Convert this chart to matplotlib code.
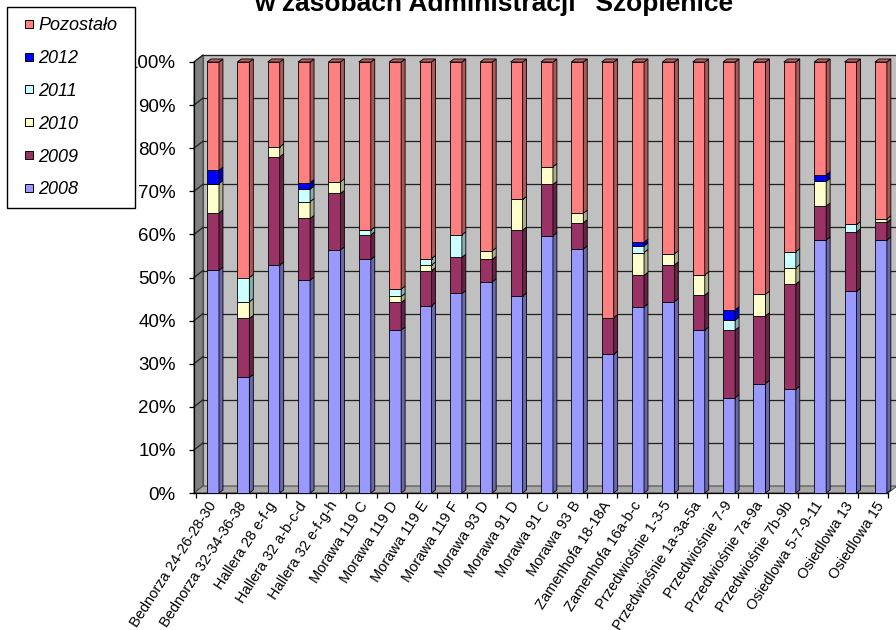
import numpy as np
import matplotlib
matplotlib.use("Agg")
import matplotlib.pyplot as plt
from matplotlib.patches import Polygon, Rectangle
from matplotlib.lines import Line2D
from matplotlib.colors import to_rgb

plt.rcParams['font.family'] = ['Liberation Sans', 'DejaVu Sans']

# ---- data (percent of premises per building) ----
categories = [
    "Bednorza 24-26-28-30", "Bednorza 32-34-36-38", "Hallera 28 e-f-g",
    "Hallera 32 a-b-c-d", "Hallera 32 e-f-g-h", "Morawa 119 C", "Morawa 119 D",
    "Morawa 119 E", "Morawa 119 F", "Morawa 93 D", "Morawa 91 D", "Morawa 91 C",
    "Morawa 93 B", "Zamenhofa 18-18A", "Zamenhofa 16a-b-c", "Przedwiośnie 1-3-5",
    "Przedwiośnie 1a-3a-5a", "Przedwiośnie 7-9", "Przedwiośnie 7a-9a",
    "Przedwiośnie 7b-9b", "Osiedlowa 5-7-9-11", "Osiedlowa 13", "Osiedlowa 15",
]
share_2008 = [51.7, 26.8, 52.9, 49.4, 56.4, 54.2, 37.8, 43.5, 46.3, 49.0, 45.7, 59.7,
              56.6, 32.2, 43.2, 44.4, 37.8, 22.1, 25.4, 24.1, 58.7, 46.8, 58.7]
share_2009 = [13.3, 13.7, 25.1, 14.3, 13.1, 5.7, 6.4, 8.1, 8.4, 5.2, 15.3, 11.9,
              6.1, 8.5, 7.3, 8.5, 8.1, 15.7, 15.7, 24.4, 7.9, 13.8, 4.1]
share_2010 = [6.8, 3.9, 2.3, 3.9, 2.7, 0.0, 1.4, 1.3, 0.0, 2.0, 7.1, 4.1,
              2.2, 0.0, 5.3, 2.6, 4.7, 0.0, 5.0, 3.8, 5.7, 0.0, 0.8]
share_2011 = [0.0, 5.6, 0.0, 2.9, 0.0, 1.1, 1.7, 1.5, 5.2, 0.0, 0.0, 0.0,
              0.0, 0.0, 1.5, 0.0, 0.0, 2.3, 0.0, 3.7, 0.0, 1.7, 0.0]
share_2012 = [3.1, 0.0, 0.0, 1.5, 0.0, 0.0, 0.0, 0.0, 0.0, 0.0, 0.0, 0.0,
              0.0, 0.0, 0.9, 0.0, 0.0, 2.4, 0.0, 0.0, 1.5, 0.0, 0.0]
share_rest = [25.1, 50.0, 19.7, 28.0, 27.8, 39.0, 52.7, 45.6, 40.1, 43.8, 31.9, 24.3,
              35.1, 59.3, 41.8, 44.5, 49.4, 57.5, 53.9, 44.0, 26.2, 37.7, 36.4]

series_names = ["2008", "2009", "2010", "2011", "2012", "Pozostało"]
series_values = [share_2008, share_2009, share_2010, share_2011, share_2012, share_rest]
series_colors = ["#9999FF", "#993366", "#FFFFCC", "#CCFFFF", "#0000FF", "#FF8080"]
pct_labels = ["0%", "10%", "20%", "30%", "40%", "50%", "60%", "70%", "80%", "90%", "100%"]
title_text = 'w zasobach Administracji "Szopienice"'

# ---- figure / axes ----
W, H = 896, 630
fig = plt.figure(figsize=(W / 100, H / 100), dpi=100)
fig.patch.set_facecolor("white")
ax = fig.add_axes([194 / W, 1 - 493 / H, 694 / W, 431 / H])
ax.set_xlim(-0.626, 22.234)
ax.set_ylim(0, 100)
ax.patch.set_visible(False)
x_lo, x_hi = ax.get_xlim()

# pseudo-3D geometry (data units)
wall_dx, wall_dy = 0.296, 1.62     # depth of back wall
bar_w = 0.395                      # front face width
bar_dx, bar_dy = 0.13, 0.70        # depth of each column


def shade(c, f):
    r, g, b = to_rgb(c)
    return (r * f, g * f, b * f)


# walls and floor
ax.add_patch(Rectangle((x_lo + wall_dx, wall_dy), x_hi - x_lo, 100,
                       fc="#C0C0C0", ec="#505050", lw=0.8, clip_on=False, zorder=0.5))
ax.add_patch(Polygon([(x_lo, 0), (x_lo + wall_dx, wall_dy), (x_lo + wall_dx, 100 + wall_dy),
                      (x_lo, 100)], closed=True, fc="#808080", ec="#505050", lw=0.8,
                     clip_on=False, zorder=0.6))
ax.add_patch(Polygon([(x_lo, 0), (x_lo + wall_dx, wall_dy), (x_hi + wall_dx, wall_dy),
                      (x_hi, 0)], closed=True, fc="#A8A8A8", ec="#505050", lw=0.8,
                     clip_on=False, zorder=0.6))

# gridlines on back wall and side wall
for v in range(10, 101, 10):
    ax.plot([x_lo + wall_dx, x_hi + wall_dx], [v + wall_dy, v + wall_dy],
            color="#202020", lw=0.9, clip_on=False, zorder=0.7)
    ax.plot([x_lo, x_lo + wall_dx], [v, v + wall_dy],
            color="#202020", lw=0.9, clip_on=False, zorder=0.7)

# stacked columns
n = len(categories)
x = np.arange(n)
bottom = np.zeros(n)
for vals, color in zip(series_values, series_colors):
    vals = np.asarray(vals, dtype=float)
    m = vals > 0
    ax.bar(x[m], vals[m], width=bar_w, bottom=bottom[m], color=color,
           edgecolor="black", linewidth=0.6, zorder=3, clip_on=False)
    for xi, b, v in zip(x[m], bottom[m], vals[m]):
        xr = xi + bar_w / 2
        ax.add_patch(Polygon([(xr, b), (xr + bar_dx, b + bar_dy),
                              (xr + bar_dx, b + v + bar_dy), (xr, b + v)],
                             closed=True, fc=shade(color, 0.68), ec="black", lw=0.6,
                             zorder=3, clip_on=False))
    bottom = bottom + vals

# top faces
for xi, top in zip(x, bottom):
    xl = xi - bar_w / 2
    ax.add_patch(Polygon([(xl, top), (xl + bar_dx, top + bar_dy),
                          (xl + bar_w + bar_dx, top + bar_dy), (xl + bar_w, top)],
                         closed=True, fc=shade(series_colors[-1], 0.75), ec="black",
                         lw=0.6, zorder=3, clip_on=False))

# axes, ticks
for s in ("top", "right"):
    ax.spines[s].set_visible(False)
for s in ("left", "bottom"):
    ax.spines[s].set_color("black")
    ax.spines[s].set_linewidth(0.9)
    ax.spines[s].set_zorder(2.5)

ax.set_yticks(np.arange(0, 101, 10))
ax.set_yticklabels(pct_labels, fontsize=13.5)
ax.tick_params(axis="y", length=3.6, width=0.9, pad=9.5, direction="out")

ax.set_xticks(np.linspace(-0.56, x_hi, 24))
ax.set_xticklabels([])
ax.set_xticks(x, minor=True)
ax.set_xticklabels(categories, minor=True, rotation=57, ha="right", va="center",
                   rotation_mode="anchor", fontsize=10.5)
ax.tick_params(axis="x", which="major", length=3.5, width=0.9, direction="out")
ax.tick_params(axis="x", which="minor", length=0, pad=7)

# legend
fig.add_artist(Rectangle((7 / W, 1 - 208 / H), 128 / W, 201 / H, transform=fig.transFigure,
                         fc="white", ec="black", lw=1.0, zorder=5))
handles = [Line2D([], [], marker="s", ls="None", markersize=6, markerfacecolor=c,
                  markeredgecolor="black", markeredgewidth=0.7)
           for c in reversed(series_colors)]
leg = fig.legend(handles, list(reversed(series_names)), loc="upper left",
                 bbox_to_anchor=(21.8 / W, 1 - 17 / H), frameon=False,
                 prop=dict(style="italic", size=13), handlelength=0.8,
                 handletextpad=0.1, labelspacing=0.88, borderpad=0, borderaxespad=0)
leg.set_zorder(6)

# title
fig.text(254 / W, 1 - 10.5 / H, title_text, fontsize=19, fontweight="bold",
         ha="left", va="baseline")

fig.savefig("out.png", dpi=100)
